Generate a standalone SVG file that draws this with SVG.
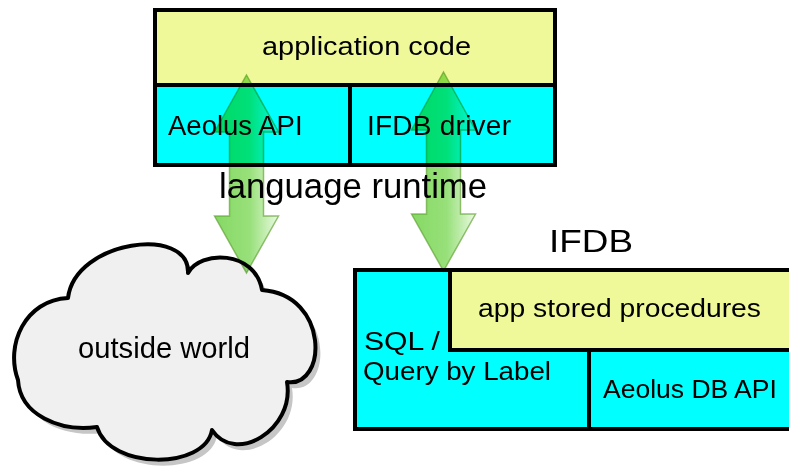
<svg xmlns="http://www.w3.org/2000/svg" width="789" height="475" viewBox="0 0 789 475">
  <defs>
    <style>
      .box { stroke: #000; stroke-width: 4; }
      .yellow { fill: #f0f99a; }
      .cyan { fill: #00ffff; }
      .lbl { font-family: "Liberation Sans", Arial, sans-serif; fill: #000; }
      .arrow { fill: url(#arrowGrad); stroke: #5e9e30; stroke-opacity: 0.65; stroke-width: 1.5; stroke-linejoin: miter; mix-blend-mode: multiply; }
    </style>
    <linearGradient id="arrowGrad" x1="0" y1="0" x2="1" y2="0">
      <stop offset="0" stop-color="#5ccc30" stop-opacity="0.75"/>
      <stop offset="0.55" stop-color="#70d446" stop-opacity="0.72"/>
      <stop offset="1" stop-color="#e4f8da" stop-opacity="0.75"/>
    </linearGradient>
    <path id="cloudShape" d="M 68,298 C 75,240 190,225 188,273 C 200,250 255,250 262,290 C 330,295 327,388 287,382 C 295,430 235,465 212,430 C 205,470 110,470 97,427 C 60,432 20,415 18,380 C 5,345 25,300 68,298 Z"/>
  </defs>
  <rect width="789" height="475" fill="#ffffff"/>

  <g id="application-code">
    <rect class="box yellow" x="155" y="10" width="400" height="75"/>
    <text class="lbl" x="262" y="55" font-size="26" textLength="209" lengthAdjust="spacingAndGlyphs">application code</text>
  </g>
  <g id="aeolus-api">
    <rect class="box cyan" x="155" y="85" width="195" height="80"/>
    <text class="lbl" x="168" y="135" font-size="27.5">Aeolus API</text>
  </g>
  <g id="ifdb-driver">
    <rect class="box cyan" x="350" y="85" width="205" height="80"/>
    <text class="lbl" x="367" y="135" font-size="28" textLength="144">IFDB driver</text>
  </g>

  <g id="outside-world">
    <use href="#cloudShape" transform="translate(5,6)" fill="#c6c6c6"/>
    <use href="#cloudShape" fill="#f0f0f0" stroke="#000" stroke-width="4" stroke-linejoin="round"/>
    <text class="lbl" x="78" y="358" font-size="29.2">outside world</text>
  </g>

  <g id="ifdb">
    <text class="lbl" x="549" y="252" font-size="32" textLength="84" lengthAdjust="spacingAndGlyphs">IFDB</text>
    <rect class="box cyan" x="355" y="270" width="460" height="159"/>
  </g>
  <g id="sql-query-by-label">
    <text class="lbl" x="364" y="350" font-size="26" textLength="76" lengthAdjust="spacingAndGlyphs">SQL /</text>
    <text class="lbl" x="363" y="380" font-size="26" textLength="188" lengthAdjust="spacingAndGlyphs">Query by Label</text>
  </g>
  <g id="app-stored-procedures">
    <rect class="box yellow" x="450" y="270" width="360" height="80"/>
    <text class="lbl" x="478" y="317" font-size="26" textLength="283" lengthAdjust="spacingAndGlyphs">app stored procedures</text>
  </g>
  <g id="aeolus-db-api">
    <rect class="box cyan" x="589" y="350" width="226" height="79"/>
    <text class="lbl" x="603" y="398" font-size="26.5">Aeolus DB API</text>
  </g>

  <g id="connectors">
    <path class="arrow" d="M 246.5,75 L 278.5,132 L 263.5,132 L 263.5,216 L 278.5,216 L 246.5,273 L 214.5,216 L 229.5,216 L 229.5,132 L 214.5,132 Z"/>
    <path class="arrow" d="M 443.5,72 L 475.5,130 L 460.5,130 L 460.5,214 L 475.5,214 L 443.5,271 L 411.5,214 L 426.5,214 L 426.5,130 L 411.5,130 Z"/>
  </g>

  <g id="language-runtime">
    <text class="lbl" x="219" y="198" font-size="34.7">language runtime</text>
  </g>
</svg>
